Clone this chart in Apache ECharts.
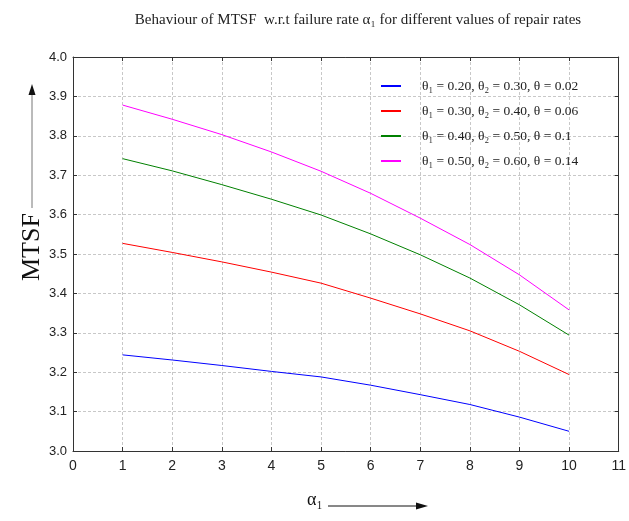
<!DOCTYPE html>
<html>
<head>
<meta charset="utf-8">
<script src="https://cdn.jsdelivr.net/npm/echarts@6/dist/echarts.min.js"></script>
<style>
  html, body { margin: 0; padding: 0; background: #fff; }
  #chart { width: 629px; height: 521px; }
</style>
</head>
<body>
<div id="chart"></div>
<script>
const alpha = [1, 2, 3, 4, 5, 6, 7, 8, 9, 10]
const seriesNames = [
  'θ₁ = 0.20, θ₂ = 0.30, θ = 0.02',
  'θ₁ = 0.30, θ₂ = 0.40, θ = 0.06',
  'θ₁ = 0.40, θ₂ = 0.50, θ = 0.1',
  'θ₁ = 0.50, θ₂ = 0.60, θ = 0.14'
]
const mtsf1 = [3.244, 3.231, 3.217, 3.202, 3.188, 3.167, 3.143, 3.118, 3.086, 3.050]
const mtsf2 = [3.527, 3.504, 3.480, 3.454, 3.426, 3.388, 3.348, 3.305, 3.253, 3.194]
const mtsf3 = [3.742, 3.711, 3.676, 3.639, 3.599, 3.551, 3.498, 3.439, 3.371, 3.294]
const mtsf4 = [3.878, 3.842, 3.803, 3.759, 3.710, 3.654, 3.591, 3.524, 3.447, 3.358]
const colors = ['#0000ff', '#ff0000', '#008000', '#ff00ff']

const allData = [mtsf1, mtsf2, mtsf3, mtsf4]

var chart = echarts.init(document.getElementById('chart'))

const gridLine = { show: true, lineStyle: { color: '#c8c8c8', type: [3, 2], width: 1 } }
const frameLine = { show: true, onZero: false, lineStyle: { color: '#333', width: 1 } }
const inTick = { show: true, inside: true, length: 4, lineStyle: { color: '#333' } }

chart.setOption({
  animation: false,
  title: {
    text: 'Behaviour of MTSF  w.r.t failure rate α₁ for different values of repair rates',
    left: 353,
    textAlign: 'center',
    top: 8,
    textStyle: { fontFamily: 'Liberation Serif', fontWeight: 'normal', fontSize: 15, color: '#222' }
  },
  legend: {
    orient: 'vertical',
    left: 376,
    top: 74,
    itemGap: 11,
    itemWidth: 20,
    itemHeight: 2,
    icon: 'rect',
    textStyle: { fontFamily: 'Liberation Serif', fontSize: 13.5, color: '#222', padding: [0, 0, 0, 16] },
    data: seriesNames
  },
  grid: { left: 73, right: 7, top: 57, bottom: 70 },
  xAxis: [{
    type: 'value',
    min: 0, max: 11, interval: 1,
    axisLine: frameLine,
    axisTick: inTick,
    splitLine: gridLine,
    axisLabel: { fontFamily: 'Liberation Sans', fontSize: 14, color: '#222', margin: 8 }
  }, {
    type: 'value',
    position: 'top',
    min: 0, max: 11, interval: 1,
    axisLine: frameLine,
    axisTick: inTick,
    splitLine: { show: false },
    axisLabel: { show: false }
  }],
  yAxis: [{
    type: 'value',
    min: 3.0, max: 4.0, interval: 0.1,
    axisLine: frameLine,
    axisTick: inTick,
    splitLine: gridLine,
    axisLabel: {
      fontFamily: 'Liberation Sans', fontSize: 13, color: '#222', margin: 6,
      formatter: v => v.toFixed(1)
    }
  }, {
    type: 'value',
    position: 'right',
    min: 3.0, max: 4.0, interval: 0.1,
    axisLine: frameLine,
    axisTick: inTick,
    splitLine: { show: false },
    axisLabel: { show: false }
  }],
  graphic: [
    {
      type: 'text',
      rotation: Math.PI / 2,
      style: { text: 'MTSF', fontFamily: 'Liberation Serif', fontSize: 26, fill: '#111' },
      position: [19, 281]
    },
    { type: 'line', shape: { x1: 32, y1: 208, x2: 32, y2: 92 }, style: { stroke: '#777', lineWidth: 1 } },
    { type: 'polygon', shape: { points: [[32, 84], [28.5, 95], [35.5, 95]] }, style: { fill: '#111' } },
    {
      type: 'text', left: 307, top: 491,
      style: { text: 'α₁', fontFamily: 'Liberation Serif', fontSize: 18, fill: '#111' }
    },
    { type: 'line', shape: { x1: 328, y1: 506, x2: 420, y2: 506 }, style: { stroke: '#111', lineWidth: 1 } },
    { type: 'polygon', shape: { points: [[428, 506], [416, 502.5], [416, 509.5]] }, style: { fill: '#111' } }
  ],
  series: allData.map((d, i) => ({
    name: seriesNames[i],
    type: 'line',
    data: alpha.map((a, j) => [a, d[j]]),
    showSymbol: false,
    symbol: 'none',
    lineStyle: { width: 1, color: colors[i] },
    itemStyle: { color: colors[i] }
  }))
})
</script>
</body>
</html>
